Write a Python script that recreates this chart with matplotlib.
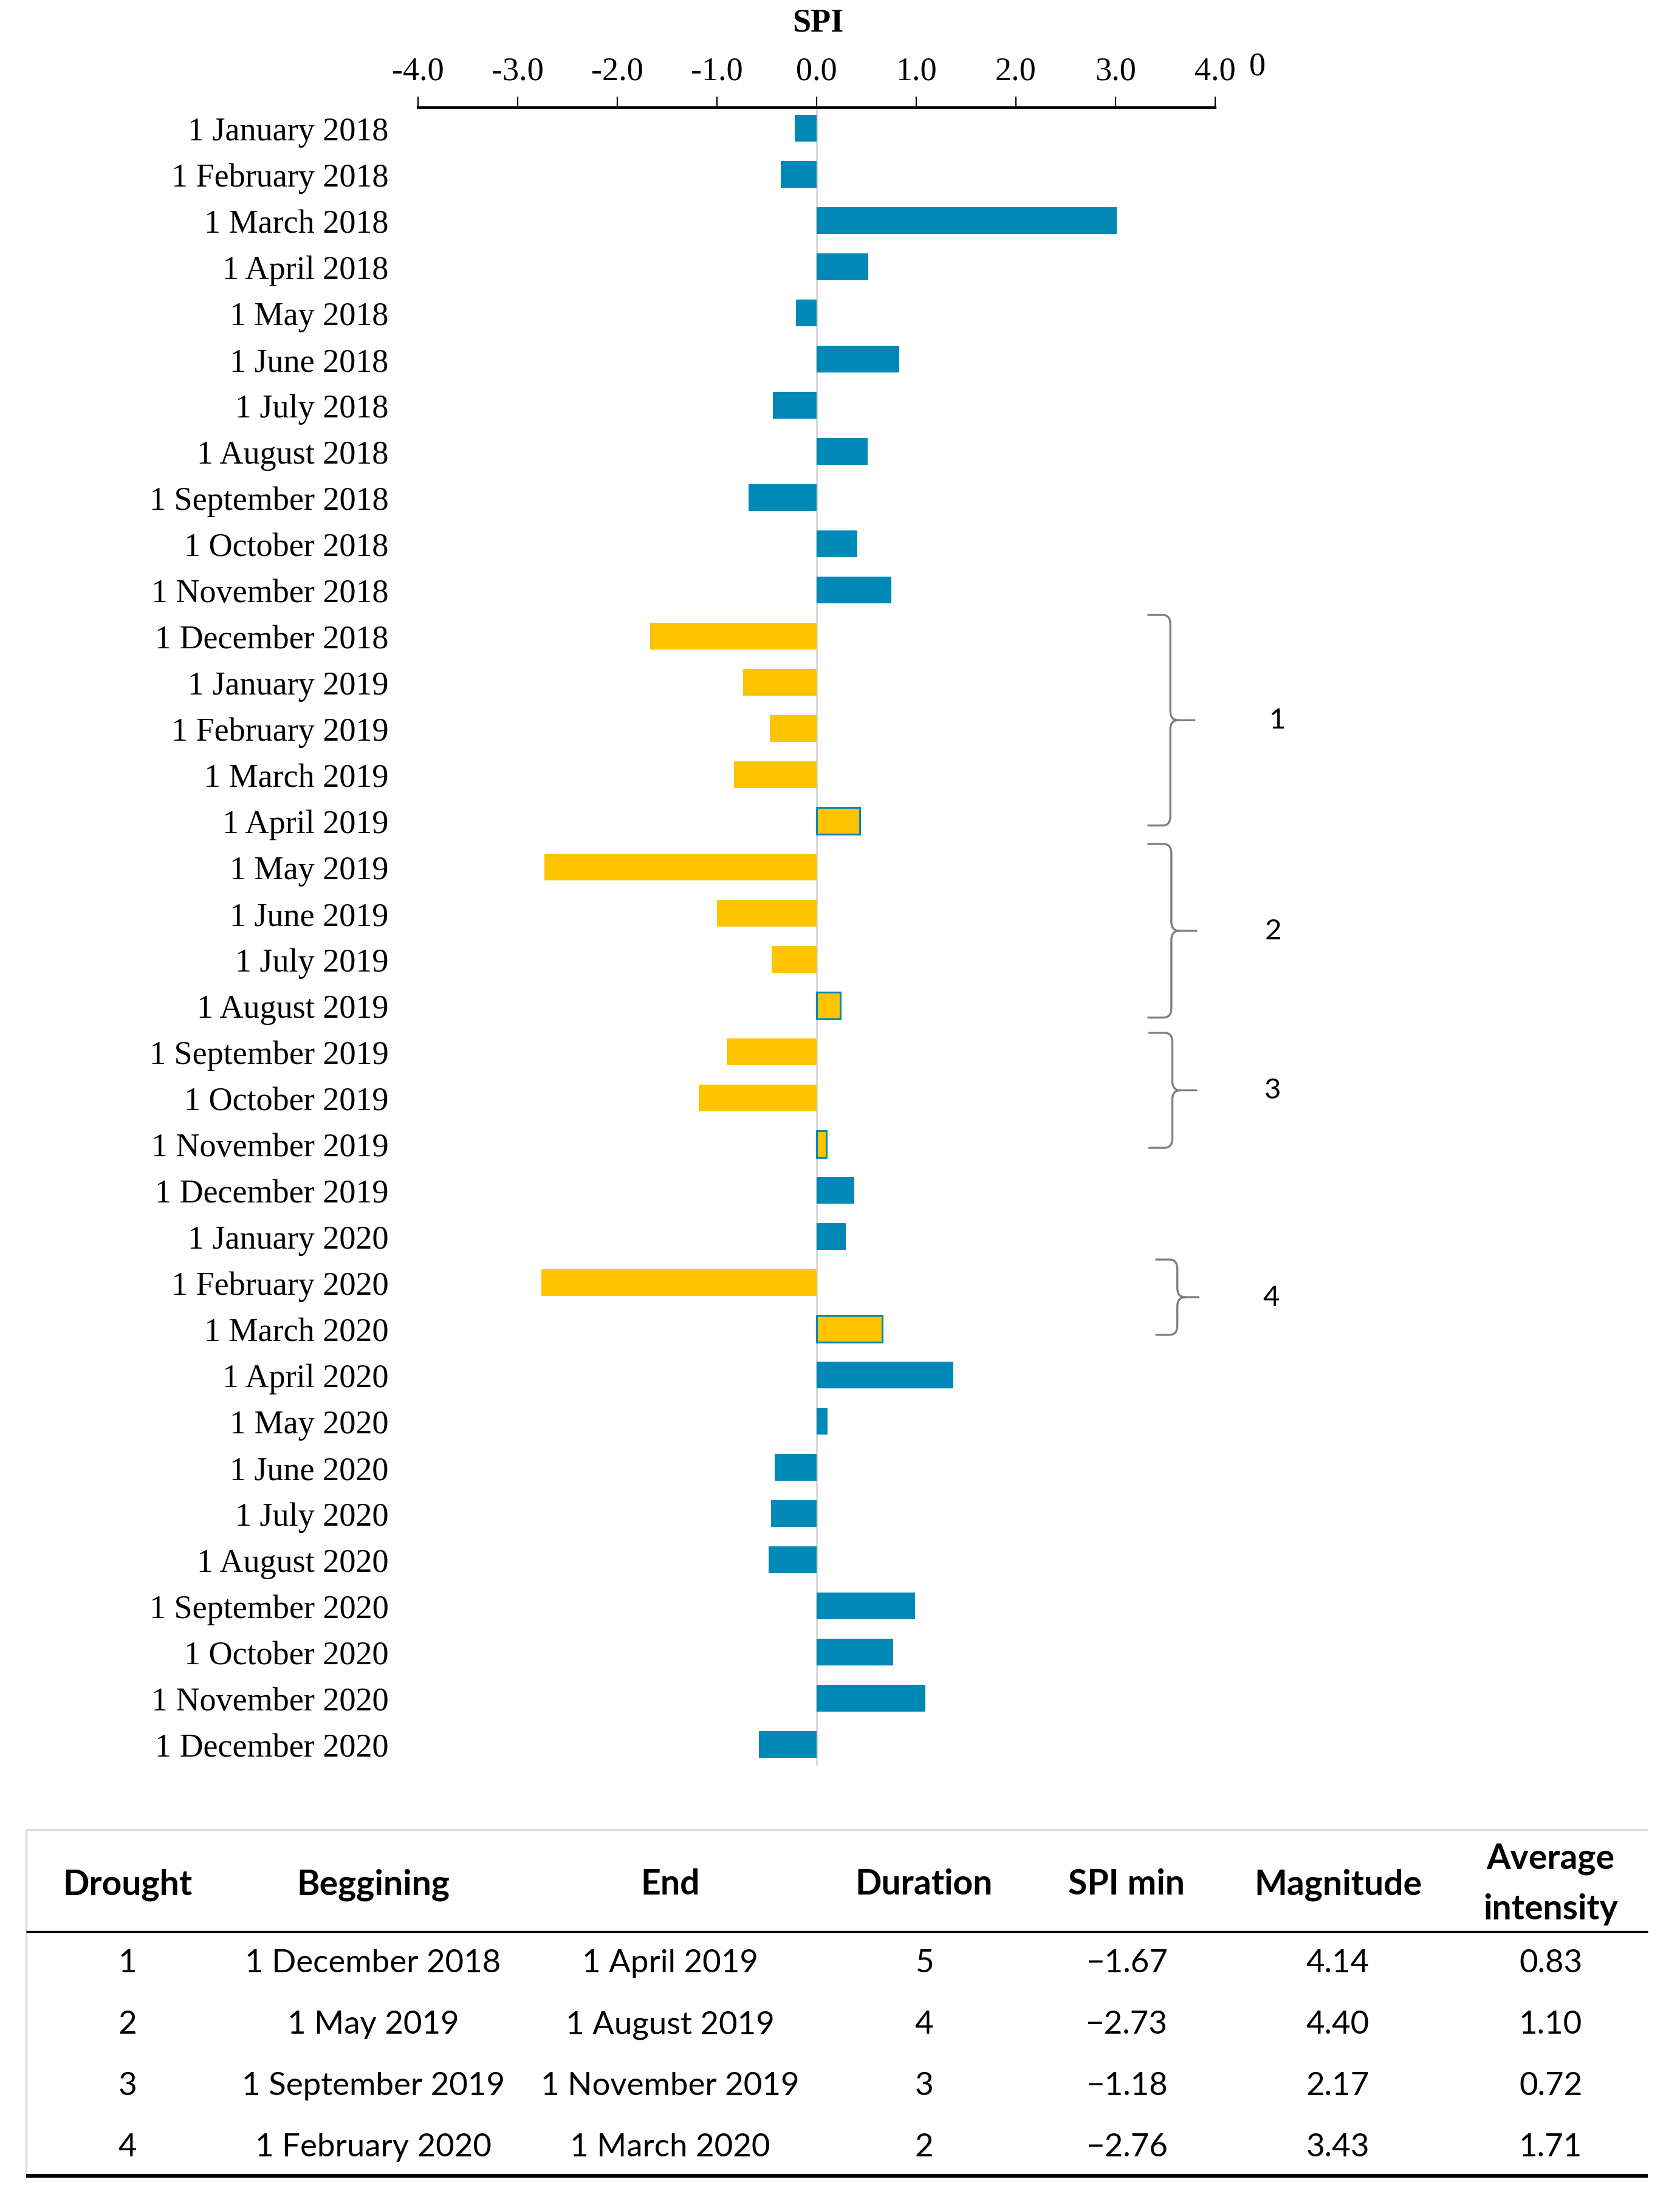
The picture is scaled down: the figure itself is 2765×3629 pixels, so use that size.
import matplotlib
matplotlib.use('Agg')
import matplotlib.pyplot as plt
from matplotlib.path import Path
from matplotlib.patches import PathPatch

# ---------------- data ----------------
months = ['1 January 2018', '1 February 2018', '1 March 2018', '1 April 2018',
          '1 May 2018', '1 June 2018', '1 July 2018', '1 August 2018',
          '1 September 2018', '1 October 2018', '1 November 2018', '1 December 2018',
          '1 January 2019', '1 February 2019', '1 March 2019', '1 April 2019',
          '1 May 2019', '1 June 2019', '1 July 2019', '1 August 2019',
          '1 September 2019', '1 October 2019', '1 November 2019', '1 December 2019',
          '1 January 2020', '1 February 2020', '1 March 2020', '1 April 2020',
          '1 May 2020', '1 June 2020', '1 July 2020', '1 August 2020',
          '1 September 2020', '1 October 2020', '1 November 2020', '1 December 2020']
spi = [-0.22, -0.36, 3.01, 0.52, -0.21, 0.83, -0.44, 0.51, -0.68, 0.41, 0.75,
       -1.67, -0.74, -0.47, -0.83, 0.43,
       -2.73, -1.00, -0.45, 0.24,
       -0.90, -1.18, 0.10,
       0.38, 0.29,
       -2.76, 0.66,
       1.37, 0.11, -0.42, -0.46, -0.48, 0.99, 0.77, 1.09, -0.58]

xtick_values = [-4, -3, -2, -1, 0, 1, 2, 3, 4]
xtick_labels = ['-4.0', '-3.0', '-2.0', '-1.0', '0.0', '1.0', '2.0', '3.0', '4.0']

table_header = ['Drought', 'Beggining', 'End', 'Duration', 'SPI min', 'Magnitude',
                'Average\nintensity']
drought_id = ['1', '2', '3', '4']
drought_begin = ['1 December 2018', '1 May 2019', '1 September 2019', '1 February 2020']
drought_end = ['1 April 2019', '1 August 2019', '1 November 2019', '1 March 2020']
drought_duration = ['5', '4', '3', '2']
drought_spimin = ['\u22121.67', '\u22122.73', '\u22121.18', '\u22122.76']
drought_magnitude = ['4.14', '4.40', '2.17', '3.43']
drought_avg = ['0.83', '1.10', '0.72', '1.71']

# ---------------- style / layout ----------------
BLUE = '#0089b7'
GOLD = '#ffc400'
SERIF = ['Liberation Serif', 'DejaVu Serif']
SANS = ['Lato', 'DejaVu Sans']

W, H = 2765, 3630
fig = plt.figure(figsize=(W / 100, H / 100), dpi=100)
fig.patch.set_facecolor('white')

# overlay axes in pixel coordinates for titles and the table
tax = fig.add_axes([0, 0, 1, 1])
tax.set_xlim(0, W)
tax.set_ylim(H, 0)
tax.axis('off')

# main chart axes
x_left_px, x_right_px = 688, 2000
y_top_px, y_bot_px = 178, 2940
row0_px, row_step_px = 212, 76.0
ax = fig.add_axes([x_left_px / W, 1 - y_bot_px / H,
                   (x_right_px - x_left_px) / W, (y_bot_px - y_top_px) / H])
ax.patch.set_alpha(0)

# drought membership from the table
idx_of = {m: i for i, m in enumerate(months)}
in_drought = [False] * len(months)
for b, e in zip(drought_begin, drought_end):
    for i in range(idx_of[b], idx_of[e] + 1):
        in_drought[i] = True

colors = [GOLD if d else BLUE for d in in_drought]
edges = [BLUE if (d and v > 0) else 'none' for d, v in zip(in_drought, spi)]
lws = [2.2 if (d and v > 0) else 0 for d, v in zip(in_drought, spi)]

ypos = list(range(len(months)))
ylim_top = (y_top_px - row0_px) / row_step_px
ylim_bot = (y_bot_px - row0_px) / row_step_px

ax.plot([0, 0], [ylim_top, (2906 - row0_px) / row_step_px], color='#d9d9d9', lw=2.2,
        zorder=1, solid_capstyle='butt')
ax.barh(ypos, spi, height=0.57, color=colors, edgecolor=edges, linewidth=lws, zorder=2)

ax.set_xlim(-4, 4)
ax.set_ylim(ylim_bot, ylim_top)

ax.xaxis.tick_top()
ax.set_xticks(xtick_values)
ax.set_xticklabels(xtick_labels, fontfamily=SERIF, fontsize=39)
ax.tick_params(axis='x', direction='out', length=13, width=1.6, pad=12, color='black')
ax.set_yticks(ypos)
ax.set_yticklabels(months, fontfamily=SERIF, fontsize=39)
ax.tick_params(axis='y', length=0, pad=35)

for s in ['left', 'right', 'bottom']:
    ax.spines[s].set_visible(False)
ax.spines['top'].set_linewidth(3.0)
ax.spines['top'].set_color('black')

# title and stray label
tax.text(1346, 38, 'SPI', fontfamily=SERIF, fontsize=39, fontweight='bold',
         ha='center', va='center')
tax.text(2070, 110, '0', fontfamily=SERIF, fontsize=39, ha='center', va='center')

# ---------------- braces ----------------
brace_top_off = [-0.46, -0.50, -0.41, -0.50]
brace_bot_off = [0.10, 0.26, 0.08, 0.13]
brace_x_left = [3.32, 3.32, 3.33, 3.40]
brace_x_v = [3.55, 3.56, 3.57, 3.62]
brace_x_tip = [3.80, 3.82, 3.82, 3.84]
brace_label_x = [4.62, 4.58, 4.58, 4.56]


def brace(xl, xv, xt, yt, yb):
    ym = (yt + yb) / 2
    rx, ry = 0.08, 0.2
    verts = [(xl, yt), (xv - rx, yt), (xv, yt), (xv, yt + ry),
             (xv, ym - ry), (xv, ym), (xv + rx, ym), (xt, ym),
             (xv + rx, ym), (xv, ym), (xv, ym + ry),
             (xv, yb - ry), (xv, yb), (xv - rx, yb), (xl, yb)]
    codes = [Path.MOVETO, Path.LINETO, Path.CURVE3, Path.CURVE3,
             Path.LINETO, Path.CURVE3, Path.CURVE3, Path.LINETO,
             Path.MOVETO, Path.CURVE3, Path.CURVE3,
             Path.LINETO, Path.CURVE3, Path.CURVE3, Path.LINETO]
    return Path(verts, codes)


for k in range(len(drought_id)):
    yt = idx_of[drought_begin[k]] + brace_top_off[k]
    yb = idx_of[drought_end[k]] + brace_bot_off[k]
    p = brace(brace_x_left[k], brace_x_v[k], brace_x_tip[k], yt, yb)
    ax.add_patch(PathPatch(p, fill=False, edgecolor='#7f7f7f', lw=2.4, clip_on=False,
                           zorder=3))
    ax.text(brace_label_x[k], (yt + yb) / 2, drought_id[k], fontfamily=SANS, fontsize=34,
            ha='center', va='center', clip_on=False)

# ---------------- table ----------------
tbl_left, tbl_right = 43, 2712
tbl_top, tbl_head, tbl_bottom = 3012, 3180, 3582
col_x = [210, 614, 1103, 1521, 1854, 2202, 2552]
head_y = 3102
row_y0, row_dy = 3232, 101

tax.plot([tbl_left, tbl_right], [tbl_top, tbl_top], color='#d9d9d9', lw=2.2,
         solid_capstyle='butt')
tax.plot([tbl_left, tbl_left], [tbl_top, tbl_bottom], color='#d9d9d9', lw=2.2,
         solid_capstyle='butt')
tax.plot([tbl_left, tbl_right], [tbl_head, tbl_head], color='black', lw=2.4,
         solid_capstyle='butt')
tax.plot([tbl_left, tbl_right], [tbl_bottom, tbl_bottom], color='black', lw=4.4,
         solid_capstyle='butt')

HEAD_FS = 41
for x, h in zip(col_x, table_header):
    if '\n' in h:
        a, b = h.split('\n')
        tax.text(x, 3060, a, fontfamily=SANS, fontsize=HEAD_FS, fontweight='bold',
                 ha='center', va='center')
        tax.text(x, 3143, b, fontfamily=SANS, fontsize=HEAD_FS, fontweight='bold',
                 ha='center', va='center')
    else:
        tax.text(x, head_y, h, fontfamily=SANS, fontsize=HEAD_FS, fontweight='bold',
                 ha='center', va='center')

columns = [drought_id, drought_begin, drought_end, drought_duration,
           drought_spimin, drought_magnitude, drought_avg]
for c, (x, col) in enumerate(zip(col_x, columns)):
    for r, val in enumerate(col):
        tax.text(x, row_y0 + r * row_dy, val, fontfamily=SANS, fontsize=38,
                 ha='center', va='center')

fig.savefig('out.png', dpi=100, facecolor='white')
